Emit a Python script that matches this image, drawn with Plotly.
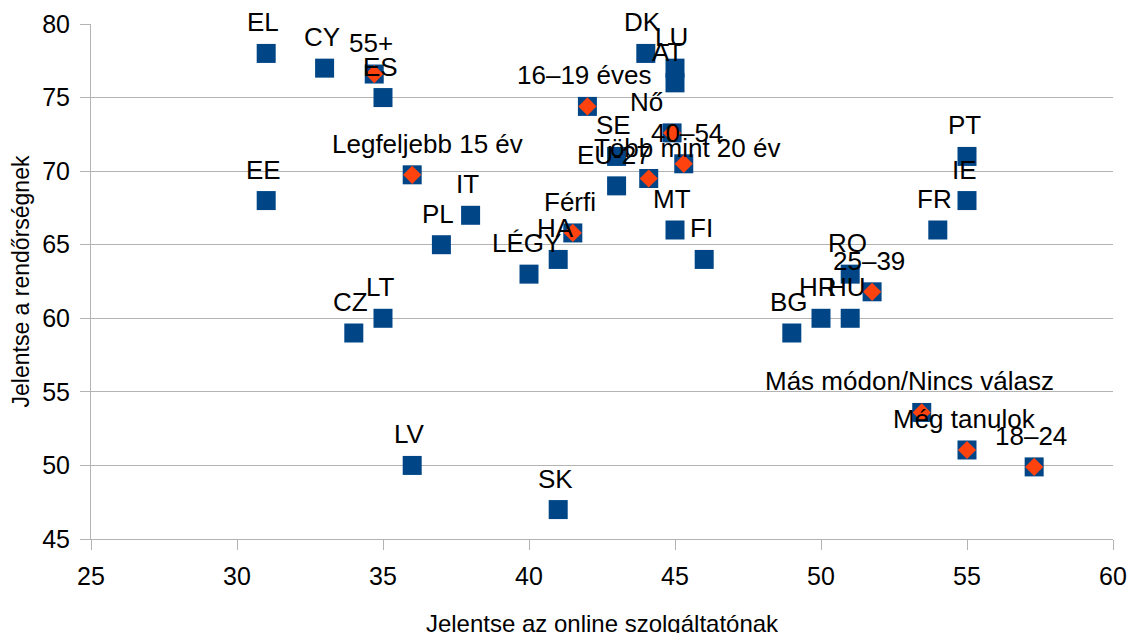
import plotly.graph_objects as go

# Countries (blue squares)
countries = ["EL", "CY", "ES", "EE", "LV", "SK", "CZ", "LT", "PL", "IT", "LÉGY", "HA",
             "SE", "EU-27", "DK", "LU", "AT", "MT", "FI", "BG", "HR", "HU", "RO",
             "FR", "IE", "PT"]
country_online = [31, 33, 35, 31, 36, 41, 34, 35, 37, 38, 40, 41,
                  43, 43, 44, 45, 45, 45, 46, 49, 50, 51, 51,
                  54, 55, 55]
country_police = [78, 77, 75, 68, 50, 47, 59, 60, 65, 67, 63, 64,
                  71, 69, 78, 77, 76, 66, 64, 59, 60, 60, 63,
                  66, 68, 71]

# Socio-demographic groups (orange diamonds)
groups = ["55+", "16–19 éves", "Legfeljebb 15 év", "Férfi", "Nő", "40–54",
          "Több mint 20 év", "25–39", "Más módon/Nincs válasz", "Még tanulok", "18–24"]
group_online = [34.7, 42.0, 36.0, 41.5, 44.9, 45.3, 44.1, 51.75, 53.45, 55.0, 57.3]
group_police = [76.6, 74.4, 69.75, 65.8, 72.6, 70.5, 69.5, 61.8, 53.6, 51.05, 49.9]

x_ticks = [25, 30, 35, 40, 45, 50, 55, 60]
y_ticks = [45, 50, 55, 60, 65, 70, 75, 80]

BLUE = "#004586"
ORANGE = "#ff420e"
GRID = "#b3b3b3"
FONT = "Liberation Sans, Arial, sans-serif"

# label offsets (pixels) for labels that the original placed off-centre
label_xshift = {"Nő": -26, "Több mint 20 év": 38, "Legfeljebb 15 év": 15,
                "Más módon/Nincs válasz": -12, "40–54": 3, "AT": -8, "LU": -4}

fig = go.Figure()
fig.add_trace(go.Scatter(
    x=country_online, y=country_police, mode="markers",
    marker=dict(symbol="square", size=19, color=BLUE, line=dict(width=0)),
    hovertext=countries, showlegend=False))
fig.add_trace(go.Scatter(
    x=group_online, y=group_police, mode="markers",
    marker=dict(symbol="square", size=19, color=BLUE, line=dict(width=0)),
    hoverinfo="skip", showlegend=False))
fig.add_trace(go.Scatter(
    x=group_online, y=group_police, mode="markers",
    marker=dict(symbol="diamond", size=14, color=ORANGE, line=dict(width=0)),
    hovertext=groups, showlegend=False))

annotations = []
for name, xv, yv in list(zip(countries, country_online, country_police)) + \
        list(zip(groups, group_online, group_police)):
    annotations.append(dict(
        x=xv, y=yv, text=name, showarrow=False, xanchor="center", yanchor="middle",
        yshift=31, xshift=label_xshift.get(name, -3),
        font=dict(family=FONT, size=26, color="black")))

fig.update_layout(
    width=1136, height=633,
    margin=dict(l=83, r=31, t=16, b=102),
    paper_bgcolor="white", plot_bgcolor="white",
    font=dict(family=FONT, size=22, color="black"),
    annotations=annotations,
    xaxis=dict(
        range=[25, 60], tickvals=x_ticks, showgrid=False, zeroline=False,
        automargin=False,
        showline=True, linecolor=GRID, linewidth=1,
        ticks="outside", ticklen=10, tickcolor=GRID, ticklabelstandoff=5,
        tickfont=dict(family=FONT, size=25, color="black"),
        title=dict(text="Jelentse az online szolgáltatónak", standoff=26,
                   font=dict(family=FONT, size=24, color="black"))),
    yaxis=dict(
        range=[45, 80], tickvals=y_ticks, showgrid=True, gridcolor=GRID,
        gridwidth=1, zeroline=False,
        automargin=False,
        showline=True, linecolor=GRID, linewidth=1,
        ticks="outside", ticklen=10, tickcolor=GRID, ticklabelstandoff=5,
        tickfont=dict(family=FONT, size=25, color="black"),
        title=dict(text="Jelentse a rendőrségnek", standoff=12,
                   font=dict(family=FONT, size=23, color="black"))),
)

fig.write_html("out.html")
